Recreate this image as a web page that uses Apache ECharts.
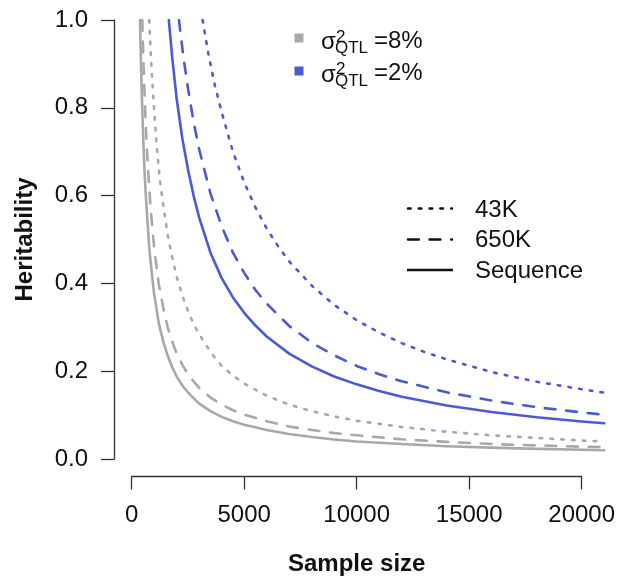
<!DOCTYPE html>
<html>
<head>
<meta charset="utf-8">
<script src="https://cdn.jsdelivr.net/npm/echarts@6/dist/echarts.min.js"></script>
<style>
html,body{margin:0;padding:0;background:#fff;}
#chart{width:617px;height:579px;}
</style>
</head>
<body>
<div id="chart"></div>
<script>
// ---- data ----
const xTicks = [0, 5000, 10000, 15000, 20000];
const yTicks = [0.0, 0.2, 0.4, 0.6, 0.8, 1.0];

// sigma2_QTL = 8% (grey)
const seq8N   = [370, 400, 450, 500, 550, 600, 700, 800, 900, 1000, 1200, 1400, 1600, 1800, 2000, 2300, 2600, 3000, 3500, 4000, 4500, 5000, 6000, 7000, 8000, 9000, 10000, 12000, 14000, 16000, 18000, 20000, 21000];
const seq8H   = [1.0, 0.925, 0.83, 0.75, 0.68, 0.625, 0.54, 0.47, 0.42, 0.375, 0.31, 0.268, 0.235, 0.209, 0.188, 0.164, 0.146, 0.126, 0.109, 0.096, 0.086, 0.078, 0.066, 0.057, 0.050, 0.0445, 0.040, 0.034, 0.029, 0.026, 0.023, 0.021, 0.020];
const k650_8N = [470, 520, 580, 650, 750, 850, 1000, 1200, 1400, 1600, 1800, 2000, 2300, 2600, 3000, 3500, 4000, 4500, 5000, 6000, 7000, 8000, 9000, 10000, 12000, 14000, 16000, 18000, 20000, 21000];
const k650_8H = [1.0, 0.91, 0.82, 0.73, 0.64, 0.565, 0.48, 0.40, 0.345, 0.30, 0.268, 0.24, 0.21, 0.186, 0.162, 0.140, 0.124, 0.111, 0.101, 0.086, 0.074, 0.066, 0.059, 0.054, 0.045, 0.039, 0.034, 0.031, 0.028, 0.027];
const k43_8N  = [780, 850, 950, 1100, 1250, 1400, 1600, 1800, 2000, 2200, 2500, 2800, 3200, 3600, 4000, 4500, 5000, 6000, 7000, 8000, 9000, 10000, 12000, 14000, 16000, 18000, 20000, 21000];
const k43_8H  = [1.0, 0.92, 0.83, 0.72, 0.635, 0.58, 0.51, 0.46, 0.415, 0.38, 0.337, 0.302, 0.268, 0.237, 0.212, 0.19, 0.172, 0.144, 0.124, 0.109, 0.097, 0.087, 0.073, 0.062, 0.054, 0.048, 0.042, 0.040];

// sigma2_QTL = 2% (blue)
const seq2N   = [1650, 1800, 2000, 2250, 2500, 2750, 3000, 3500, 4000, 4500, 5000, 5500, 6000, 7000, 8000, 9000, 10000, 11000, 12000, 14000, 16000, 18000, 20000, 21000];
const seq2H   = [1.0, 0.915, 0.82, 0.73, 0.66, 0.60, 0.55, 0.47, 0.412, 0.368, 0.333, 0.304, 0.279, 0.240, 0.211, 0.188, 0.170, 0.155, 0.142, 0.122, 0.107, 0.095, 0.0855, 0.0815];
const k650_2N = [2100, 2300, 2500, 2750, 3000, 3500, 4000, 4500, 5000, 5500, 6000, 7000, 8000, 9000, 10000, 11000, 12000, 14000, 16000, 18000, 20000, 21000];
const k650_2H = [1.0, 0.915, 0.845, 0.768, 0.705, 0.605, 0.53, 0.47, 0.424, 0.385, 0.354, 0.303, 0.265, 0.236, 0.212, 0.193, 0.177, 0.152, 0.133, 0.118, 0.106, 0.101];
const k43_2N  = [3150, 3400, 3700, 4000, 4500, 5000, 5500, 6000, 6500, 7000, 8000, 9000, 10000, 11000, 12000, 13000, 14000, 16000, 18000, 20000, 21000];
const k43_2H  = [1.0, 0.925, 0.85, 0.79, 0.70, 0.63, 0.573, 0.525, 0.485, 0.45, 0.395, 0.351, 0.316, 0.288, 0.264, 0.244, 0.227, 0.198, 0.176, 0.159, 0.151];

// ---- styling ----
const GREY = '#a8a8a8';
const BLUE = '#4b5ad3';
const FONT = 'Liberation Sans, Arial, Helvetica, sans-serif';
const LW = 2.6;
const DOT = [2.6, 8.2];
const DASH = [10.8, 10.8];

function pairs(xs, ys){ return xs.map((x,i)=>[x, ys[i]]); }
function curve(name, xs, ys, color, dash){
  return {
    name: name, type: 'line', xAxisIndex: 0, yAxisIndex: 0,
    data: pairs(xs, ys), showSymbol: false, symbol: 'none',
    smooth: false, clip: true,
    lineStyle: {color: color, width: LW, type: dash || 'solid', cap: 'round', join: 'round'},
    z: 3
  };
}

const chart = echarts.init(document.getElementById('chart'), null, {renderer: 'canvas'});
const option = {
  animation: false,
  backgroundColor: '#fff',
  grid: [
    {left: 131.7, top: 20, width: 472.5, height: 439, containLabel: false, outerBoundsMode: 'none'},
    {left: 131.7, top: 20, width: 450, height: 439, containLabel: false, outerBoundsMode: 'none'}
  ],
  xAxis: [
    {gridIndex: 0, type: 'value', min: 0, max: 21000, show: false},
    {gridIndex: 1, type: 'value', min: xTicks[0], max: xTicks[xTicks.length-1], interval: 5000,
     offset: 17.5,
     axisLine: {show: true, onZero: false, lineStyle: {color: '#333', width: 1.3}},
     axisTick: {show: true, length: 13, inside: false, lineStyle: {color: '#333', width: 1.3}},
     axisLabel: {fontSize: 24, color: '#111', fontFamily: FONT, margin: 27, showMinLabel: true, showMaxLabel: true,
                 formatter: v => String(v)},
     splitLine: {show: false},
     name: 'Sample size', nameLocation: 'middle', nameGap: 76,
     nameTextStyle: {fontSize: 24, fontWeight: 'bold', color: '#111', fontFamily: FONT}}
  ],
  yAxis: [
    {gridIndex: 0, type: 'value', min: 0, max: 1, show: false},
    {gridIndex: 1, type: 'value', min: yTicks[0], max: yTicks[yTicks.length-1], interval: 0.2,
     offset: 17.7,
     axisLine: {show: true, onZero: false, lineStyle: {color: '#333', width: 1.3}},
     axisTick: {show: true, length: 13, inside: false, lineStyle: {color: '#333', width: 1.3}},
     axisLabel: {fontSize: 24, color: '#111', fontFamily: FONT, margin: 26,
                 formatter: v => v.toFixed(1), showMinLabel: true, showMaxLabel: true},
     splitLine: {show: false},
     name: 'Heritability', nameLocation: 'middle', nameGap: 77, nameRotate: 90,
     nameTextStyle: {fontSize: 24, fontWeight: 'bold', color: '#111', fontFamily: FONT}}
  ],
  series: [
    curve('43K 8%', k43_8N, k43_8H, GREY, DOT),
    curve('650K 8%', k650_8N, k650_8H, GREY, DASH),
    curve('Sequence 8%', seq8N, seq8H, GREY, 'solid'),
    curve('43K 2%', k43_2N, k43_2H, BLUE, DOT),
    curve('650K 2%', k650_2N, k650_2H, BLUE, DASH),
    curve('Sequence 2%', seq2N, seq2H, BLUE, 'solid')
  ],
  graphic: [
    // colour legend
    {type: 'rect', shape: {x: 294.5, y: 33.5, width: 9, height: 9}, style: {fill: GREY}},
    {type: 'text', x: 321, y: 42.5, style: {text: 'σ', font: '24px ' + FONT, fill: '#111', verticalAlign: 'middle'}},
    {type: 'text', x: 336, y: 37, style: {text: '2', font: '17px ' + FONT, fill: '#111', verticalAlign: 'middle'}},
    {type: 'text', x: 335, y: 48.5, style: {text: 'QTL', font: '17px ' + FONT, fill: '#111', verticalAlign: 'middle'}},
    {type: 'text', x: 374, y: 41, style: {text: '=8%', font: '24px ' + FONT, fill: '#111', verticalAlign: 'middle'}},
    {type: 'rect', shape: {x: 294.5, y: 66.5, width: 9, height: 9}, style: {fill: BLUE}},
    {type: 'text', x: 321, y: 75.2, style: {text: 'σ', font: '24px ' + FONT, fill: '#111', verticalAlign: 'middle'}},
    {type: 'text', x: 336, y: 69.7, style: {text: '2', font: '17px ' + FONT, fill: '#111', verticalAlign: 'middle'}},
    {type: 'text', x: 335, y: 81.2, style: {text: 'QTL', font: '17px ' + FONT, fill: '#111', verticalAlign: 'middle'}},
    {type: 'text', x: 374, y: 73.7, style: {text: '=2%', font: '24px ' + FONT, fill: '#111', verticalAlign: 'middle'}},
    // line-type legend
    {type: 'line', shape: {x1: 408, y1: 208.5, x2: 452, y2: 208.5}, style: {stroke: '#111', lineWidth: LW, lineDash: DOT, lineCap: 'round'}},
    {type: 'text', x: 475, y: 210, style: {text: '43K', font: '24px ' + FONT, fill: '#111', verticalAlign: 'middle'}},
    {type: 'line', shape: {x1: 408, y1: 239.5, x2: 452, y2: 239.5}, style: {stroke: '#111', lineWidth: LW, lineDash: DASH, lineCap: 'round'}},
    {type: 'text', x: 475, y: 240.5, style: {text: '650K', font: '24px ' + FONT, fill: '#111', verticalAlign: 'middle'}},
    {type: 'line', shape: {x1: 407, y1: 270, x2: 453, y2: 270}, style: {stroke: '#111', lineWidth: LW}},
    {type: 'text', x: 475, y: 271, style: {text: 'Sequence', font: '24px ' + FONT, fill: '#111', verticalAlign: 'middle'}}
  ]
};
chart.setOption(option);
</script>
</body>
</html>
